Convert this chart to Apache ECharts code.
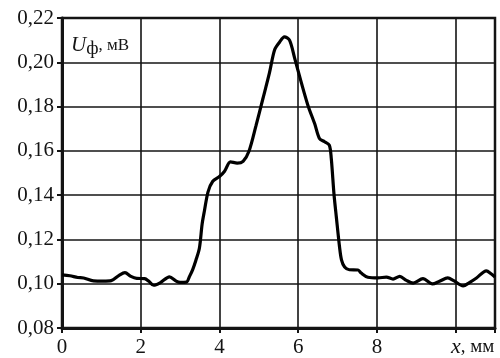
<!DOCTYPE html>
<html>
<head>
<meta charset="utf-8">
<script src="https://cdn.jsdelivr.net/npm/echarts@6/dist/echarts.min.js"></script>
<style>
  html, body { margin: 0; padding: 0; background: #fff; }
  #chart { width: 500px; height: 358px; }
</style>
</head>
<body>
<div id="chart"></div>
<script>
// координата x, мм
const xValues = [
  0.0, 0.2, 0.4, 0.55, 0.8, 1.05, 1.25, 1.45, 1.6, 1.75, 1.9, 2.1, 2.2, 2.33, 2.5,
  2.73, 2.9, 3.0, 3.16, 3.24, 3.32, 3.4, 3.49, 3.56, 3.62, 3.71, 3.83, 4.0, 4.13,
  4.28, 4.45, 4.6, 4.75, 4.93, 5.1, 5.27, 5.4, 5.53, 5.65, 5.78, 5.91, 6.08, 6.25,
  6.42, 6.54, 6.67, 6.79, 6.84, 6.91, 6.97, 7.05, 7.1, 7.18, 7.3, 7.52, 7.6, 7.77,
  8.03, 8.24, 8.41, 8.58, 8.75, 8.92, 9.17, 9.41, 9.59, 9.8, 9.95, 10.19, 10.35,
  10.53, 10.78, 10.9, 11.0
];
// сигнал U_ф, мВ
const uValues = [
  0.104, 0.1036, 0.1028, 0.1026, 0.1013, 0.1012, 0.1014, 0.1038, 0.105, 0.1033,
  0.1024, 0.1023, 0.1012, 0.0993, 0.1005, 0.1031, 0.1012, 0.1006, 0.1007, 0.1033,
  0.1064, 0.1105, 0.116, 0.127, 0.1331, 0.1415, 0.1463, 0.1484, 0.1508, 0.155,
  0.1545, 0.1553, 0.1598, 0.1715, 0.1833, 0.1952, 0.2056, 0.2092, 0.2115, 0.21,
  0.2019, 0.1908, 0.1804, 0.1722, 0.1656, 0.1641, 0.1626, 0.1567, 0.1404, 0.13,
  0.1167, 0.1108, 0.1075, 0.1063, 0.1062, 0.1048, 0.1029, 0.1026, 0.103, 0.1021,
  0.1033, 0.1015, 0.1003, 0.1023, 0.0999, 0.1011, 0.1026, 0.1014, 0.099, 0.1005,
  0.1026, 0.1058, 0.1045, 0.103
];
const xTickLabels = ["0", "2", "4", "6", "8"];

const chart = echarts.init(document.getElementById("chart"));
const serif = "Liberation Serif";
const ink = "#141414";

const option = {
  backgroundColor: "#fff",
  animation: false,
  title: {
    text: "{u|U}{s|ф}{n|, мВ}",
    left: 66,
    top: 27,
    textStyle: {
      fontWeight: "normal",
      rich: {
        u: { fontFamily: serif, fontStyle: "italic", fontWeight: "normal", fontSize: 21, color: ink },
        s: { fontFamily: serif, fontWeight: "normal", fontSize: 19, color: ink, padding: [8, 0, 0, 0] },
        n: { fontFamily: serif, fontWeight: "normal", fontSize: 17, color: ink },
      },
    },
  },
  grid: {
    left: 62,
    right: 5,
    top: 18,
    bottom: 25,
    show: true,
    borderColor: ink,
    borderWidth: 2.5,
  },
  xAxis: {
    type: "value",
    min: 0,
    max: 11,
    interval: 2,
    name: "{i|x}{n|, мм}",
    nameLocation: "end",
    nameGap: -44,
    nameTextStyle: {
      align: "left",
      verticalAlign: "top",
      padding: [8, 0, 0, 0],
      rich: {
        i: { fontFamily: serif, fontStyle: "italic", fontSize: 22, color: ink },
        n: { fontFamily: serif, fontSize: 19, color: ink },
      },
    },
    axisLine: { show: true, lineStyle: { color: ink, width: 3 } },
    axisTick: { show: true, length: 5, lineStyle: { color: ink, width: 2 } },
    axisLabel: {
      fontFamily: serif,
      fontSize: 21,
      color: ink,
      margin: 9,
      formatter: (v) => {
        const s = String(v);
        return xTickLabels.includes(s) ? s : "";
      },
    },
    splitLine: { show: true, lineStyle: { color: ink, width: 1.6 } },
  },
  yAxis: {
    type: "value",
    min: 0.08,
    max: 0.22,
    interval: 0.02,
    axisLine: { show: true, lineStyle: { color: ink, width: 3 } },
    axisTick: { show: true, length: 5, lineStyle: { color: ink, width: 2 } },
    axisLabel: {
      fontFamily: serif,
      fontSize: 21,
      color: ink,
      margin: 8,
      formatter: (v) => v.toFixed(2).replace(".", ","),
    },
    splitLine: { show: true, lineStyle: { color: ink, width: 1.6 } },
  },
  series: [
    {
      type: "line",
      data: xValues.map((x, i) => [x, uValues[i]]),
      smooth: 0.3,
      symbol: "none",
      lineStyle: { color: "#000", width: 3.2 },
    },
  ],
};

chart.setOption(option);
</script>
</body>
</html>
